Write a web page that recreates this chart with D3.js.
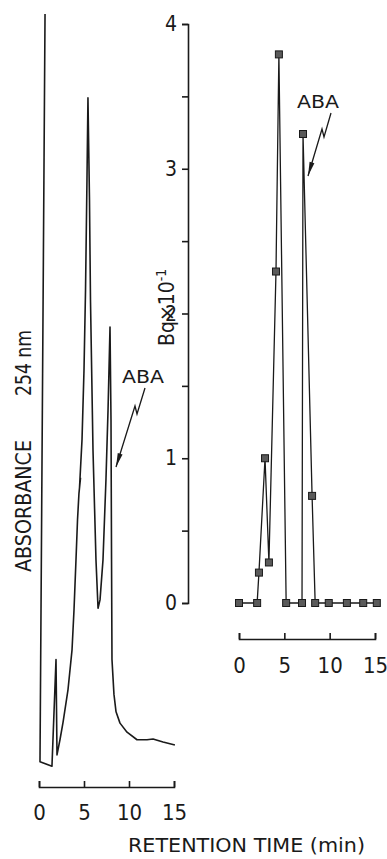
<!DOCTYPE html>
<html>
<head>
<meta charset="utf-8">
<script src="https://cdn.jsdelivr.net/npm/d3@7"></script>
<style>
  html, body { margin: 0; padding: 0; background: #fff; }
  svg { display: block; }
  text { font-family: "DejaVu Sans Condensed", "DejaVu Sans", sans-serif; fill: #1a1a1a; }
  .axis path, .axis line { stroke: #1a1a1a; stroke-width: 1.6; }
  .trace { fill: none; stroke: #1a1a1a; stroke-width: 1.6; stroke-linejoin: round; }
  .radio { fill: none; stroke: #1a1a1a; stroke-width: 1.3; }
  .marker { fill: #5a5a5a; stroke: #1a1a1a; stroke-width: 1; }
</style>
</head>
<body>
<div id="chart"></div>
<script>
// UV trace (absorbance 254 nm, arbitrary units) vs retention time (min)
const uvTime = [0.67, 0.11, 1.44, 1.89, 2.0, 2.33, 2.67, 3.22, 3.67, 3.89, 4.11, 4.28, 4.44, 4.61, 4.5,
  4.78, 5.0, 5.17, 5.33, 5.44, 5.61, 5.72, 6.0, 6.33, 6.56, 6.78, 7.11, 7.44, 7.67, 7.89, 8.0, 8.06,
  8.11, 8.33, 8.56, 9.0, 9.78, 10.89, 12.0, 12.67, 13.78, 15.1];
const uvAbs = [100, 1.1, 0.5, 14.6, 2.0, 4.0, 6.3, 10.6, 15.9, 21.2, 27.8, 33.1, 36.6, 38.6, 37.3,
  43.7, 52.9, 63.5, 78.0, 88.9, 75.4, 62.2, 42.3, 27.8, 21.4, 22.5, 27.8, 38.4, 47.6, 58.6, 46.3, 27.8,
  14.6, 10.0, 7.7, 6.2, 5.0, 4.0, 4.0, 4.1, 3.7, 3.3];

// radioactivity of collected fractions (Bq x 10^-1)
const fracTime = [0, 2.0, 2.2, 2.87, 3.3, 4.08, 4.4, 5.2, 6.95, 7.06, 8.06, 8.4, 9.9, 11.9, 13.7, 15.2];
const fracBq = [0, 0, 0.21, 1.0, 0.28, 2.29, 3.79, 0, 0, 3.24, 0.74, 0, 0, 0, 0, 0];

const timeTicks = [0, 5, 10, 15];
const bqTicks = [0, 0.5, 1, 1.5, 2, 2.5, 3, 3.5, 4];

const width = 387, height = 859;

const svg = d3.select("#chart").append("svg")
  .attr("width", width)
  .attr("height", height);

// ---- left panel: UV trace
const xL = d3.scaleLinear().domain([0, 15]).range([39, 174]);
const yL = d3.scaleLinear().domain([0, 100]).range([770, 14]);

svg.append("path")
  .datum(uvTime.map((t, i) => [t, uvAbs[i]]))
  .attr("class", "trace")
  .attr("d", d3.line().x(d => xL(d[0])).y(d => yL(d[1])));

svg.append("g")
  .attr("class", "axis")
  .attr("transform", "translate(0,787)")
  .call(d3.axisBottom(xL).tickValues(timeTicks).tickSize(-6).tickSizeOuter(-6).tickPadding(17).tickFormat(d3.format("d")))
  .call(g => g.selectAll("text").attr("font-size", 22).attr("font-family", null));

svg.append("text")
  .attr("transform", "translate(31,572) rotate(-90)")
  .attr("font-size", 22)
  .attr("textLength", 132)
  .attr("lengthAdjust", "spacingAndGlyphs")
  .text("ABSORBANCE");

svg.append("text")
  .attr("transform", "translate(31,396) rotate(-90)")
  .attr("font-size", 22)
  .attr("textLength", 66)
  .attr("lengthAdjust", "spacingAndGlyphs")
  .text("254 nm");

// ---- right panel: radioactivity
const xR = d3.scaleLinear().domain([0, 15]).range([239, 375]);
const yR = d3.scaleLinear().domain([0, 4]).range([603, 24]);

svg.append("g")
  .attr("class", "axis")
  .attr("transform", "translate(188,0)")
  .call(d3.axisLeft(yR).tickValues(bqTicks).tickSize(6).tickSizeOuter(6).tickPadding(5)
    .tickFormat(d => Number.isInteger(d) ? d : ""))
  .call(g => g.selectAll("text").attr("font-size", 21).attr("font-family", null));

svg.append("g")
  .attr("class", "axis")
  .attr("transform", "translate(0,639)")
  .call(d3.axisBottom(xR).tickValues(timeTicks).tickSize(-6).tickSizeOuter(-6).tickPadding(18).tickFormat(d3.format("d")))
  .call(g => g.selectAll("text").attr("font-size", 22).attr("font-family", null));

const frac = fracTime.map((t, i) => [t, fracBq[i]]);

svg.append("path")
  .datum(frac)
  .attr("class", "radio")
  .attr("d", d3.line().x(d => xR(d[0])).y(d => yR(d[1])));

svg.selectAll("rect.marker")
  .data(frac)
  .enter().append("rect")
  .attr("class", "marker")
  .attr("x", d => xR(d[0]) - 3.5)
  .attr("y", d => yR(d[1]) - 3.5)
  .attr("width", 7)
  .attr("height", 7);

const bq = svg.append("text")
  .attr("transform", "translate(174,346) rotate(-90)")
  .attr("font-size", 21);
bq.append("tspan").text("Bq×10");
bq.append("tspan").attr("font-size", 14).attr("dy", -8).text("-1");

// ---- ABA labels with lightning arrows
function abaArrow(tx, ty, pts) {
  svg.append("text")
    .attr("x", tx).attr("y", ty)
    .attr("font-size", 18)
    .attr("textLength", 42)
    .attr("lengthAdjust", "spacingAndGlyphs")
    .text("ABA");
  const [s, b, c, tip] = pts;
  svg.append("path")
    .attr("d", d3.line()([s, b, c, tip]))
    .attr("fill", "none")
    .attr("stroke", "#1a1a1a")
    .attr("stroke-width", 1.3);
  // narrow arrow head
  const dx = tip[0] - c[0], dy = tip[1] - c[1];
  const len = Math.hypot(dx, dy);
  const ux = dx / len, uy = dy / len;
  const bx = tip[0] - ux * 14, by = tip[1] - uy * 14;
  svg.append("path")
    .attr("d", d3.line()([[bx - uy * 2.5, by + ux * 2.5], tip, [bx + uy * 2.5, by - ux * 2.5]]) + "Z")
    .attr("fill", "#1a1a1a");
}

abaArrow(297, 108, [[331, 113], [324, 137], [322, 129], [308, 176]]);
abaArrow(122, 383, [[145, 388], [137, 414], [135, 406], [116, 467]]);

svg.append("text")
  .attr("x", 128)
  .attr("y", 852)
  .attr("font-size", 20)
  .attr("textLength", 237)
  .attr("lengthAdjust", "spacingAndGlyphs")
  .text("RETENTION TIME  (min)");
</script>
</body>
</html>
